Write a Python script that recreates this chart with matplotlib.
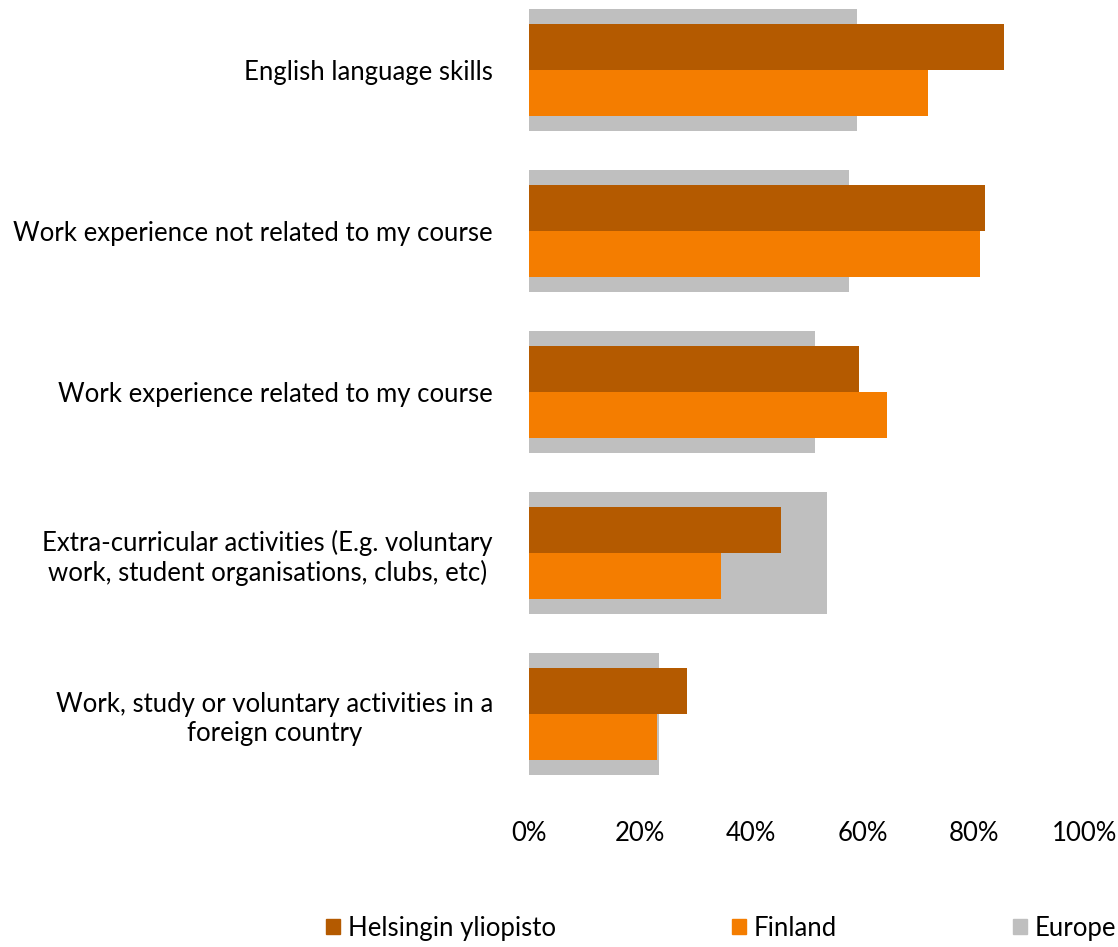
import matplotlib
matplotlib.use("Agg")
import matplotlib.pyplot as plt
from matplotlib.patches import Patch

plt.rcParams.update({
    "font.family": ["Lato", "DejaVu Sans"],
    "font.size": 18.5,
})

# ── data ──────────────────────────────────────────────────────────────────────
categories = [
    "English language skills",
    "Work experience not related to my course",
    "Work experience related to my course",
    "Extra-curricular activities (E.g. voluntary\nwork, student organisations, clubs, etc)",
    "Work, study or voluntary activities in a\nforeign country",
]
helsinki = [85.5, 82.0, 59.3, 45.3, 28.4]
finland = [71.8, 81.2, 64.3, 34.5, 23.0]
europe = [59.0, 57.5, 51.4, 53.6, 23.4]
xticks = [0, 20, 40, 60, 80, 100]
series_names = ["Helsingin yliopisto", "Finland", "Europe"]

C = {"helsinki": "#B45A00", "finland": "#F47D00", "europe": "#BFBFBF"}

W, H = 1118, 947
fig = plt.figure(figsize=(W / 100, H / 100), dpi=100)
# axes in pixel terms: x 529..1085, y 0..815
ax = fig.add_axes([529 / W, 1 - 815 / H, (1085 - 529) / W, 815 / H])

y = list(range(len(categories)))
ax.barh(y, europe, height=0.76, color=C["europe"], zorder=1)
ax.barh([v - 0.143 for v in y], helsinki, height=0.286, color=C["helsinki"], zorder=2)
ax.barh([v + 0.143 for v in y], finland, height=0.286, color=C["finland"], zorder=2)

ax.set_xlim(0, 100)
ax.set_ylim(4.627, -0.435)
ax.set_xticks(xticks)
ax.set_xticklabels([f"{t}%" for t in xticks])
ax.set_yticks(y)
ax.set_yticklabels(categories, multialignment="center", linespacing=1.2)
ax.tick_params(axis="both", length=0, colors="black")
ax.tick_params(axis="y", pad=26)
ax.tick_params(axis="x", pad=4)
for s in ax.spines.values():
    s.set_visible(False)

handles = [Patch(color=C[k]) for k in ("helsinki", "finland", "europe")]
fig.legend(handles, series_names, loc="center", ncol=3, frameon=False,
           bbox_to_anchor=(721 / W, 1 - 928 / H), handlelength=0.55, handleheight=0.55,
           handletextpad=0.3, columnspacing=6.85, borderaxespad=0)

fig.savefig("out.png", dpi=100)
